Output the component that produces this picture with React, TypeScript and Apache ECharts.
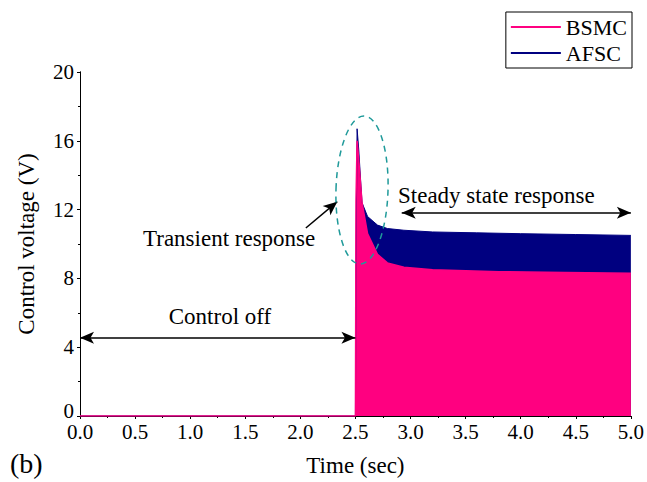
import React, { useEffect, useRef } from "react";
import * as echarts from "echarts";

const FONT = "Liberation Serif";

const xTicks = [0, 0.5, 1, 1.5, 2, 2.5, 3, 3.5, 4, 4.5, 5];
const yTicks = [0, 4, 8, 12, 16, 20];

// AFSC (navy) envelope
const afscTime = [0, 2.5, 2.505, 2.515, 2.53, 2.547, 2.56, 2.61, 2.7, 2.79, 2.94, 3.2, 3.6, 4.0, 4.5, 5.0];
const afscVolt = [0, 0, 9.0, 16.7, 15.5, 13.7, 12.4, 11.6, 11.1, 10.9, 10.8, 10.7, 10.65, 10.6, 10.55, 10.5];

// BSMC (pink) envelope
const bsmcTime = [0, 2.5, 2.505, 2.515, 2.53, 2.56, 2.61, 2.7, 2.79, 2.94, 3.2, 3.8, 4.4, 5.0];
const bsmcVolt = [0, 0, 12.5, 16.0, 14.9, 12.4, 10.6, 9.4, 8.9, 8.65, 8.5, 8.39, 8.34, 8.3];

const NAVY = "#000080";
const PINK = "#FF0080";

export default function App() {
  const ref = useRef<HTMLDivElement>(null);
  useEffect(() => {
    document.body.style.margin = "0";
    const chart = echarts.init(ref.current!, null, { renderer: "svg" });
    const axisLine = { show: true, lineStyle: { color: "#000", width: 1 } };
    const lbl = { fontFamily: FONT, fontSize: 21, color: "#000" };
    const option: any = {
      animation: false,
      backgroundColor: "#fff",
      grid: { left: 80, right: 14, top: 72, bottom: 66, show: false },
      legend: {
        data: ["BSMC", "AFSC"],
        orient: "vertical",
        right: 15,
        top: 12,
        borderColor: "#000",
        borderWidth: 1,
        padding: [4, 5, 4, 5],
        itemGap: 4,
        itemWidth: 50,
        itemHeight: 2,
        icon: "rect",
        textStyle: { fontFamily: FONT, fontSize: 22, color: "#000" },
      },
      xAxis: [
        {
          type: "value",
          min: 0,
          max: 5,
          interval: 0.5,
          position: "bottom",
          axisLine,
          axisTick: { show: true, length: 3, lineStyle: { color: "#000" } },
          minorTick: { show: true, splitNumber: 2, length: 2, lineStyle: { color: "#000" } },
          splitLine: { show: false },
          axisLabel: { ...lbl, margin: 5, formatter: (v: number) => v.toFixed(1) },
          name: "Time (sec)",
          nameLocation: "middle",
          nameGap: 38,
          nameTextStyle: { fontFamily: FONT, fontSize: 23, color: "#000" },
        },
        {
          type: "value",
          min: 0,
          max: 5,
          interval: 0.5,
          position: "top",
          axisLine,
          axisTick: { show: true, inside: true, length: 3, lineStyle: { color: "#000" } },
          minorTick: { show: true, splitNumber: 2, length: 2, lineStyle: { color: "#000" } },
          splitLine: { show: false },
          axisLabel: { show: false },
        },
      ],
      yAxis: [
        {
          type: "value",
          min: 0,
          max: 20,
          interval: 4,
          position: "left",
          axisLine,
          axisTick: { show: true, length: 3, lineStyle: { color: "#000" } },
          minorTick: { show: true, splitNumber: 2, length: 2, lineStyle: { color: "#000" } },
          splitLine: { show: false },
          axisLabel: {
            ...lbl,
            margin: 6,
            formatter: (v: number) => (v === 0 ? "{z|0}" : String(v)),
            rich: { z: { fontFamily: FONT, fontSize: 21, color: "#000", padding: [0, 0, 10, 0] } },
          },
          name: "Control voltage (V)",
          nameLocation: "middle",
          nameGap: 42,
          nameTextStyle: { fontFamily: FONT, fontSize: 23, color: "#000" },
        },
        {
          type: "value",
          min: 0,
          max: 20,
          interval: 4,
          position: "right",
          axisLine,
          axisTick: { show: true, inside: true, length: 3, lineStyle: { color: "#000" } },
          minorTick: { show: true, splitNumber: 2, length: 2, lineStyle: { color: "#000" } },
          splitLine: { show: false },
          axisLabel: { show: false },
        },
      ],
      series: [
        {
          name: "AFSC",
          type: "line",
          xAxisIndex: 0,
          yAxisIndex: 0,
          data: afscTime.map((t, i) => [t, afscVolt[i]]),
          showSymbol: false,
          symbol: "none",
          color: NAVY,
          lineStyle: { color: NAVY, width: 1 },
          areaStyle: { color: NAVY, opacity: 1 },
        },
        {
          name: "BSMC",
          type: "line",
          xAxisIndex: 0,
          yAxisIndex: 0,
          data: bsmcTime.map((t, i) => [t, bsmcVolt[i]]),
          showSymbol: false,
          symbol: "none",
          color: PINK,
          lineStyle: { color: PINK, width: 1.5 },
          areaStyle: { color: PINK, opacity: 1 },
          markLine: {
            silent: true,
            symbol: ["arrow", "arrow"],
            symbolSize: [9, 14],
            label: { show: false },
            lineStyle: { color: "#000", width: 1.5, type: "solid" },
            data: [
              [{ coord: [0, 4.55] }, { coord: [2.5, 4.55] }],
              [{ coord: [2.92, 11.82] }, { coord: [5, 11.82] }],
              [{ coord: [2.05, 10.93], symbol: "none" }, { coord: [2.335, 12.46], symbol: "arrow" }],
            ],
          },
        },
      ],
      graphic: [
        {
          type: "ellipse",
          x: 362,
          y: 190,
          rotation: -0.03,
          shape: { cx: 0, cy: 0, rx: 26, ry: 74 },
          style: { fill: "none", stroke: "#1f9a9a", lineWidth: 1.5, lineDash: [6, 5] },
          z: 100,
        },
        {
          type: "text",
          style: { text: "Control off", x: 220, y: 316, textAlign: "center", textVerticalAlign: "middle", fontFamily: FONT, fontSize: 23, fill: "#000" },
        },
        {
          type: "text",
          style: { text: "Transient response", x: 143, y: 238, textAlign: "left", textVerticalAlign: "middle", fontFamily: FONT, fontSize: 23, fill: "#000" },
        },
        {
          type: "text",
          style: { text: "Steady state response", x: 398, y: 195, textAlign: "left", textVerticalAlign: "middle", fontFamily: FONT, fontSize: 23, fill: "#000" },
        },
        {
          type: "text",
          style: { text: "(b)", x: 10, y: 463, textAlign: "left", textVerticalAlign: "middle", fontFamily: FONT, fontSize: 28, fill: "#000" },
        },
      ],
    };
    chart.setOption(option);
    return () => chart.dispose();
  }, []);
  return <div ref={ref} style={{ width: 647, height: 482 }} />;
}
